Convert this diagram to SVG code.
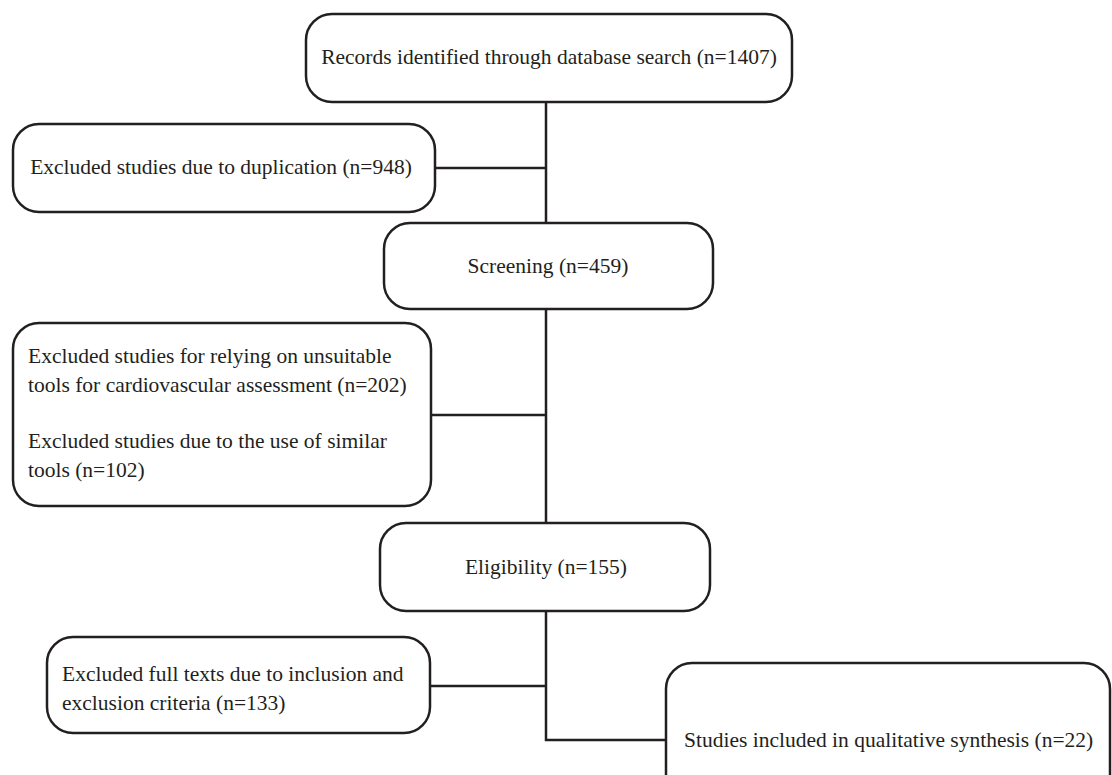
<svg xmlns="http://www.w3.org/2000/svg" width="1112" height="775" viewBox="0 0 1112 775">
<style>
.box{fill:#fff;stroke:#231f20;stroke-width:2.5}
.ln{fill:none;stroke:#231f20;stroke-width:2.5}
text{font-family:"Liberation Serif","Times New Roman",serif;font-size:21.5px;fill:#231f20}
.c{text-anchor:middle}
</style>
<rect width="1112" height="775" fill="#fff"/>
<g id="connectors">
<path class="ln" d="M546 101 V740 H666"/>
<path class="ln" d="M434 168 H546"/>
<path class="ln" d="M430 415 H546"/>
<path class="ln" d="M430 686 H546"/>
</g>
<g id="n1"><rect class="box" x="306" y="14" width="486" height="88" rx="26"/><text class="c" x="549" y="64">Records identified through database search (n=1407)</text></g>
<g id="n2"><rect class="box" x="13" y="124" width="422" height="88" rx="26"/><text class="c" x="221" y="174">Excluded studies due to duplication (n=948)</text></g>
<g id="n3"><rect class="box" x="384" y="223" width="329" height="86" rx="26"/><text class="c" x="548" y="273">Screening (n=459)</text></g>
<g id="n4"><rect class="box" x="13" y="323" width="418" height="183" rx="26"/>
<text x="28" y="363">Excluded studies for relying on unsuitable</text>
<text x="28" y="392">tools for cardiovascular assessment (n=202)</text>
<text x="28" y="448">Excluded studies due to the use of similar</text>
<text x="28" y="477">tools (n=102)</text></g>
<g id="n5"><rect class="box" x="380" y="523" width="330" height="88" rx="26"/><text class="c" x="546" y="574">Eligibility (n=155)</text></g>
<g id="n6"><rect class="box" x="47" y="637" width="383" height="96" rx="26"/>
<text x="62" y="681">Excluded full texts due to inclusion and</text>
<text x="62" y="710">exclusion criteria (n=133)</text></g>
<g id="n7"><rect class="box" x="666" y="663" width="444" height="140" rx="26"/><text x="684" y="747">Studies included in qualitative synthesis (n=22)</text></g>
</svg>
